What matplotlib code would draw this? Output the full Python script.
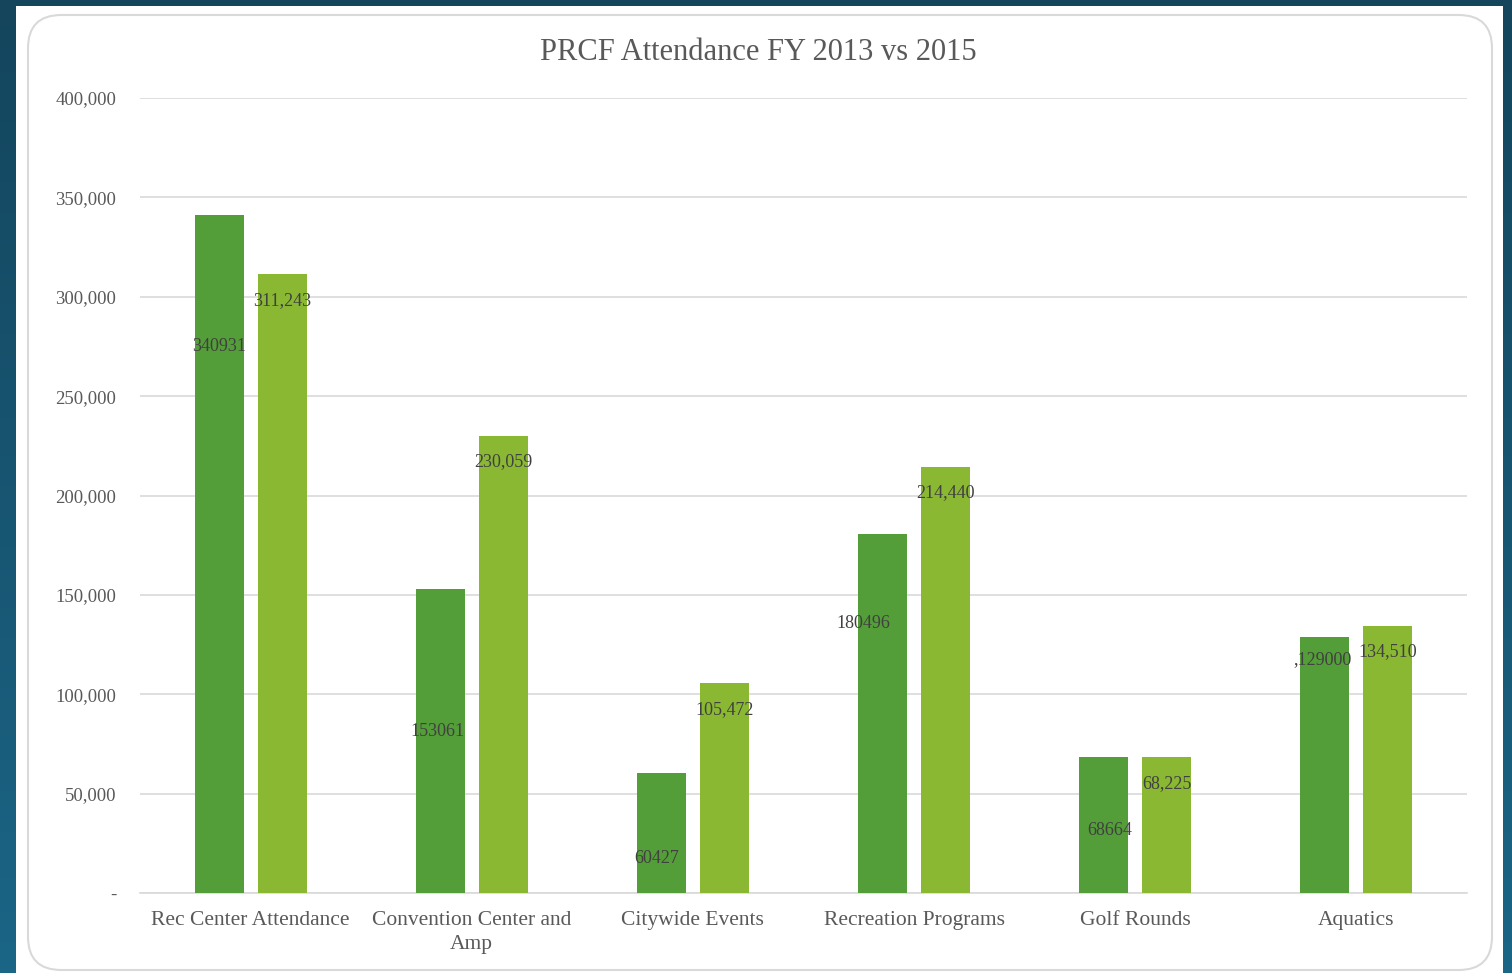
import numpy as np
import matplotlib
matplotlib.use('Agg')
import matplotlib.pyplot as plt
from matplotlib.patches import FancyBboxPatch, Rectangle
from matplotlib.colors import LinearSegmentedColormap

# Data
categories = ['Rec Center Attendance', 'Convention Center and\nAmp', 'Citywide Events',
              'Recreation Programs', 'Golf Rounds', 'Aquatics']
fy2013 = [340931, 153061, 60427, 180496, 68664, 129000]
fy2015 = [311243, 230059, 105472, 214440, 68225, 134510]
labels2013 = ['340931', '153061', '60427', '180496', '68664', ',129000']
labels2015 = ['311,243', '230,059', '105,472', '214,440', '68,225', '134,510']
# where the (hand moved) 2013 labels sit
label2013_y = [275000, 81500, 17600, 135800, 31200, 117200]
label2013_dx = [0.0, -0.014, -0.023, -0.086, 0.027, -0.01]
yticks = [0, 50000, 100000, 150000, 200000, 250000, 300000, 350000, 400000]
yticklabels = ['-', '50,000', '100,000', '150,000', '200,000', '250,000',
               '300,000', '350,000', '400,000']

W, H = 1512, 973
fig = plt.figure(figsize=(W / 100, H / 100), dpi=100)

# dark blue backdrop with gradient
bg = fig.add_axes([0, 0, 1, 1], zorder=-10)
cmap = LinearSegmentedColormap.from_list('bg', ['#14455d', '#1b6586'])
grad = np.linspace(0, 1, 256).reshape(-1, 1)
bg.imshow(grad, aspect='auto', cmap=cmap, extent=[0, 1, 0, 1], origin='upper')
bg.set_xlim(0, 1)
bg.set_ylim(0, 1)
bg.axis('off')
bg.add_patch(Rectangle((16 / W, 0), (1503 - 16) / W, (H - 6) / H,
                       facecolor='white', edgecolor='none'))
bg.add_patch(FancyBboxPatch((28 / W, 3 / H), (1492 - 28) / W, (958 - 3) / H,
                            boxstyle='round,pad=0,rounding_size=0.022',
                            mutation_aspect=W / H,
                            facecolor='white', edgecolor='#d9d9d9', linewidth=1.5))

ax = fig.add_axes([140 / W, 1 - 893 / H, (1467 - 140) / W, (893 - 98) / H])
ax.set_facecolor('none')
x = np.arange(len(categories))
bw = 0.222
off = 0.1425
ax.bar(x - off, fy2013, bw, color='#549e39', zorder=3, label='FY 2013')
ax.bar(x + off, fy2015, bw, color='#8ab833', zorder=3, label='FY 2015')

lab_font = dict(family='Liberation Serif', fontsize=13, color='#404040')
for i in range(len(categories)):
    ax.text(x[i] - off + label2013_dx[i], label2013_y[i], labels2013[i],
            ha='center', va='center', zorder=4, **lab_font)
    ax.text(x[i] + off, fy2015[i] - 13000, labels2015[i],
            ha='center', va='center', zorder=4, **lab_font)

ax.set_xlim(-0.5, len(categories) - 0.5)
ax.set_ylim(0, 400000)
ax.set_yticks(yticks)
ax.set_yticklabels(yticklabels, family='Liberation Serif', fontsize=13.5, color='#595959')
ax.set_xticks(x)
ax.set_xticklabels(categories, family='Liberation Serif', fontsize=15.5, color='#595959',
                   linespacing=1.35)
ax.tick_params(axis='y', length=0, pad=17)
ax.tick_params(axis='x', length=0, pad=13)
ax.grid(axis='y', color='#d9d9d9', linewidth=1.2, zorder=0)
for s in ['top', 'right', 'left']:
    ax.spines[s].set_visible(False)
ax.spines['bottom'].set_color('#d9d9d9')
ax.spines['bottom'].set_linewidth(1.2)

fig.text(758 / W, 1 - 53 / H, 'PRCF Attendance FY 2013 vs 2015', ha='center', va='center',
         family='Liberation Serif', fontsize=22, color='#595959')

fig.savefig('out.png', dpi=100)
